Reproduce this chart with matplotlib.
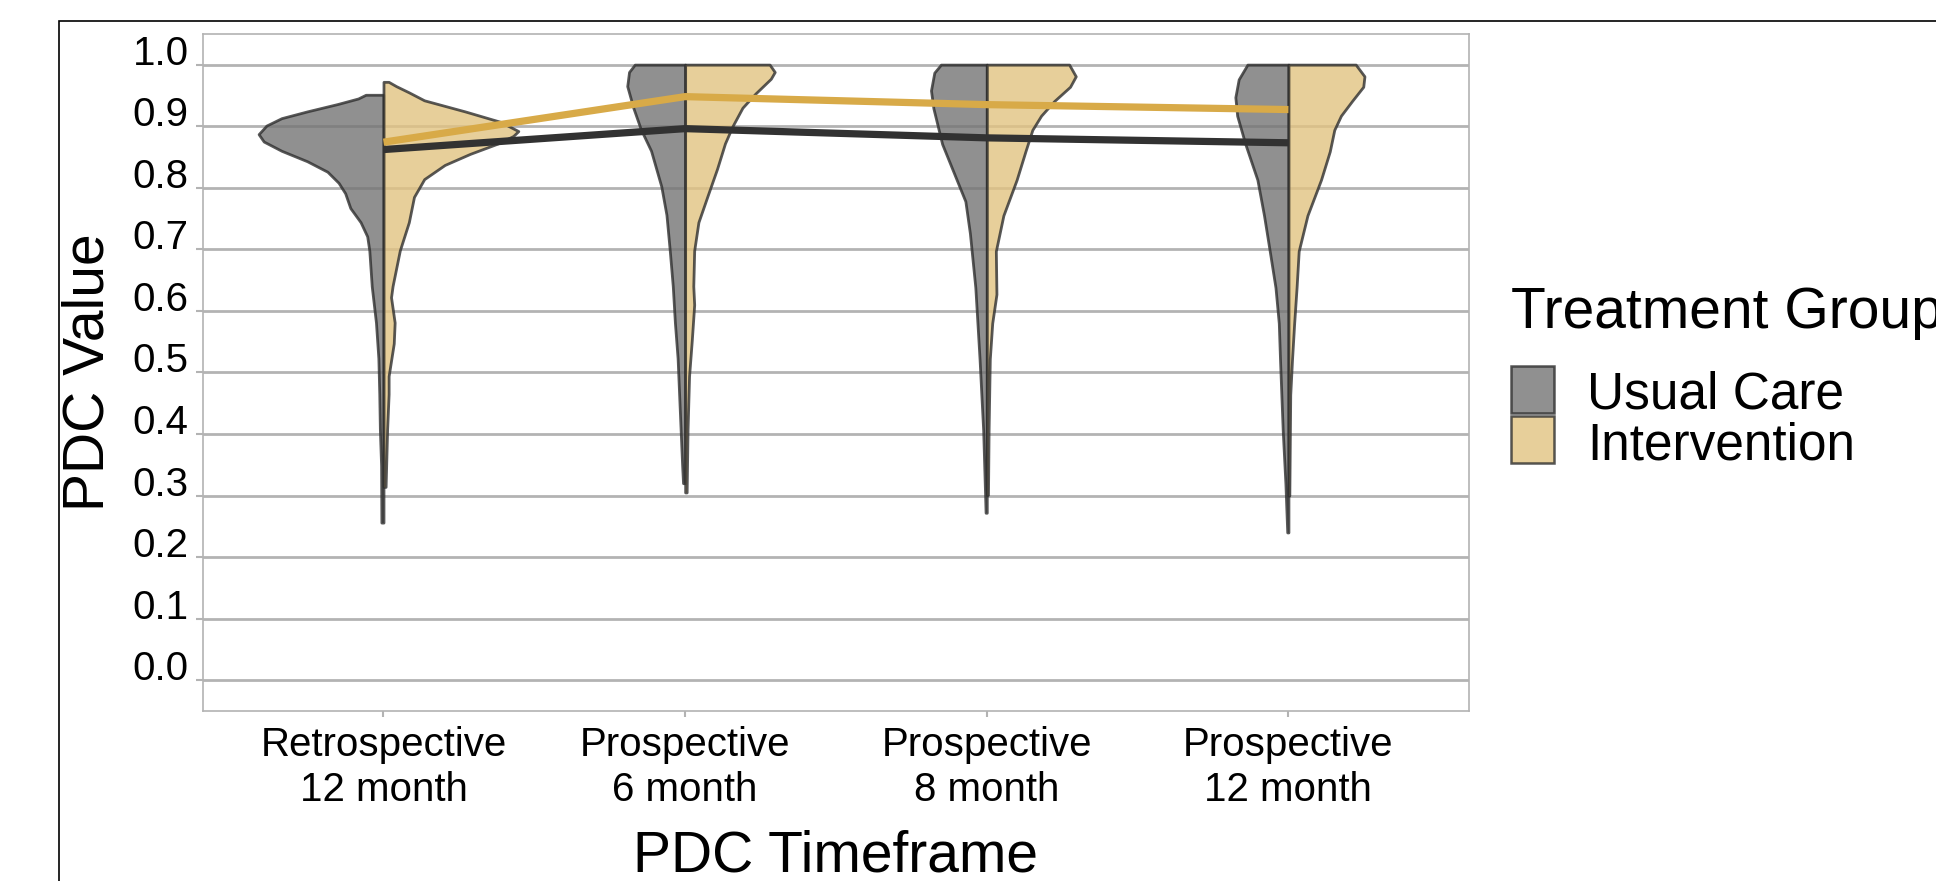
import numpy as np
import matplotlib
matplotlib.use('Agg')
import matplotlib.pyplot as plt
from matplotlib.patches import Rectangle

plt.rcParams['font.family'] = ['Liberation Sans', 'DejaVu Sans']

# ****************** DATA ******************************************

timeframes = ['Retrospective\n12 month', 'Prospective\n6 month',
              'Prospective\n8 month', 'Prospective\n12 month']
groups = ['Usual Care', 'Intervention']

# mean PDC per timeframe
usual_care_mean = [0.862, 0.896, 0.881, 0.873]
intervention_mean = [0.874, 0.948, 0.935, 0.927]

# violin outlines: PDC value and half width (in category units)
usual_care_y = [
    [0.951, 0.945, 0.936, 0.924, 0.913, 0.901, 0.887, 0.875, 0.860, 0.843,
     0.826, 0.808, 0.791, 0.767, 0.744, 0.721, 0.698, 0.640, 0.581, 0.523,
     0.465, 0.407, 0.349, 0.256],
    [1.000, 0.988, 0.965, 0.930, 0.895, 0.860, 0.802, 0.756, 0.698, 0.640,
     0.581, 0.523, 0.465, 0.407, 0.349, 0.320],
    [1.000, 0.987, 0.958, 0.929, 0.871, 0.813, 0.778, 0.726, 0.638, 0.522,
     0.406, 0.290, 0.272],
    [1.000, 0.976, 0.947, 0.917, 0.871, 0.813, 0.755, 0.697, 0.638, 0.580,
     0.522, 0.406, 0.319, 0.240],
]
usual_care_w = [
    [0.059, 0.084, 0.152, 0.253, 0.338, 0.388, 0.414, 0.397, 0.338, 0.253,
     0.186, 0.149, 0.127, 0.110, 0.076, 0.054, 0.047, 0.039, 0.025, 0.017,
     0.014, 0.012, 0.008, 0.007],
    [0.167, 0.186, 0.192, 0.172, 0.147, 0.113, 0.079, 0.062, 0.051, 0.041,
     0.034, 0.025, 0.020, 0.015, 0.010, 0.007],
    [0.152, 0.174, 0.185, 0.177, 0.148, 0.100, 0.071, 0.056, 0.038, 0.024,
     0.012, 0.005, 0.004],
    [0.136, 0.165, 0.176, 0.170, 0.143, 0.103, 0.081, 0.062, 0.043, 0.032,
     0.028, 0.019, 0.010, 0.004],
]
intervention_y = [
    [0.972, 0.965, 0.955, 0.942, 0.924, 0.907, 0.892, 0.884, 0.872, 0.855,
     0.837, 0.814, 0.785, 0.744, 0.698, 0.640, 0.622, 0.581, 0.547, 0.494,
     0.465, 0.407, 0.314],
    [1.000, 0.988, 0.977, 0.953, 0.930, 0.900, 0.872, 0.831, 0.785, 0.744,
     0.698, 0.640, 0.610, 0.552, 0.494, 0.407, 0.305],
    [1.000, 0.981, 0.964, 0.941, 0.917, 0.894, 0.859, 0.813, 0.755, 0.697,
     0.627, 0.580, 0.522, 0.406, 0.301],
    [1.000, 0.981, 0.964, 0.941, 0.917, 0.894, 0.859, 0.813, 0.755, 0.697,
     0.638, 0.580, 0.522, 0.464, 0.300],
]
intervention_w = [
    [0.017, 0.042, 0.084, 0.135, 0.270, 0.388, 0.447, 0.430, 0.380, 0.287,
     0.203, 0.135, 0.101, 0.084, 0.054, 0.030, 0.025, 0.037, 0.034, 0.017,
     0.017, 0.012, 0.007],
    [0.280, 0.297, 0.284, 0.233, 0.190, 0.157, 0.132, 0.106, 0.073, 0.044,
     0.030, 0.027, 0.030, 0.022, 0.013, 0.008, 0.005],
    [0.273, 0.295, 0.276, 0.224, 0.180, 0.151, 0.128, 0.099, 0.055, 0.030,
     0.032, 0.018, 0.010, 0.006, 0.004],
    [0.223, 0.252, 0.248, 0.211, 0.174, 0.152, 0.137, 0.108, 0.063, 0.034,
     0.027, 0.019, 0.012, 0.006, 0.003],
]

fill_colors = ['#747474', '#e2c381']
line_colors = ['#323232', '#d8aa48']
edge_color = '#2e2e2e'
grid_color = '#b3b3b3'

# ************ PLOT *****************************

fig = plt.figure(figsize=(19.36, 8.81), dpi=100)
ax = fig.add_axes([0.1046, 0.1930, 0.6544, 0.7686])

x = np.arange(len(timeframes))

for i in x:
    # left half = usual care, right half = intervention
    uy = np.array(usual_care_y[i])
    uw = np.array(usual_care_w[i])
    ax.fill_betweenx(uy, i - uw, i, facecolor=fill_colors[0], alpha=0.8,
                     edgecolor=edge_color, linewidth=2.0, zorder=2)
    iy = np.array(intervention_y[i])
    iw = np.array(intervention_w[i])
    ax.fill_betweenx(iy, i, i + iw, facecolor=fill_colors[1], alpha=0.8,
                     edgecolor=edge_color, linewidth=2.0, zorder=2)

ax.plot(x, usual_care_mean, color=line_colors[0], linewidth=5.2, zorder=4,
        solid_capstyle='butt')
ax.plot(x, intervention_mean, color=line_colors[1], linewidth=5.2, zorder=4,
        solid_capstyle='butt')

ax.set_xlim(-0.6, 3.6)
ax.set_ylim(-0.05, 1.05)
ax.set_xticks(x)
ax.set_xticklabels(timeframes, fontsize=29, linespacing=1.24)
ax.set_yticks(np.round(np.arange(0, 1.01, 0.1), 1))
ax.set_yticklabels([f'{v:.1f}' for v in np.arange(0, 1.01, 0.1)],
                   fontsize=29)
for lab in ax.get_yticklabels():
    lab.set_verticalalignment('baseline')

ax.tick_params(axis='y', length=5, width=1.5, color=grid_color, pad=5)
ax.tick_params(axis='x', length=4.5, width=1.5, color=grid_color, pad=6)

ax.yaxis.grid(True, color=grid_color, linewidth=2)
ax.set_axisbelow(True)
for sp in ax.spines.values():
    sp.set_color(grid_color)
    sp.set_linewidth(1.2)

ax.set_xlabel('PDC Timeframe', fontsize=41, labelpad=15)
ax.set_ylabel('PDC Value', fontsize=41, labelpad=12)

# manual legend
fig.text(0.7805, 0.6277, 'Treatment Group', fontsize=41, va='baseline')
patch_y = [0.5312, 0.4745]
label_y = [0.5358, 0.4790]
for k, g in enumerate(groups):
    fig.add_artist(Rectangle((0.7805, patch_y[k]), 0.0222, 0.0533,
                             transform=fig.transFigure,
                             facecolor=fill_colors[k], alpha=0.8,
                             edgecolor=edge_color, linewidth=1.8))
    fig.text(0.8197, label_y[k], g, fontsize=37, va='baseline')

# outer frame (only left and top edges are in view)
fig.add_artist(Rectangle((0.0303, -0.2), 1.5, 1.1765,
                         transform=fig.transFigure, fill=False,
                         edgecolor='black', linewidth=1.2, clip_on=False))

fig.savefig('out.png', dpi=100)
